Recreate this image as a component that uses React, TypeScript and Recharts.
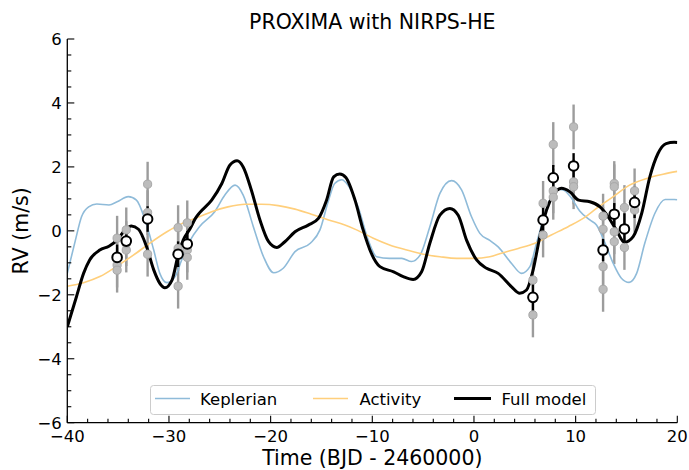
import React from 'react';
import { ComposedChart, Line, Scatter, XAxis, YAxis, ErrorBar } from 'recharts';

// ---- Full model curve (black) ----
const fullModelTime = [-40, -39.1, -38.4, -37.8, -36.8, -35.9, -35.1, -34.3, -33.7, -33.0, -32.2, -31.5, -30.9, -30.4, -29.7, -29.1, -28.6, -27.9, -27.4, -27.0, -25.8, -24.8, -24.0, -23.3, -22.7, -21.9, -21.05, -20.2, -19.4, -18.6, -17.6, -16.3, -15.3, -14.5, -13.8, -13.2, -12.6, -11.7, -10.9, -10.1, -9.25, -7.9, -6.96, -5.98, -5.15, -4.34, -3.35, -2.37, -1.55, -0.73, 0.26, 1.24, 2.38, 3.7, 4.5, 5.17, 5.82, 6.48, 7.14, 7.8, 8.6, 9.43, 10.3, 11.4, 12.4, 13.2, 14.0, 14.8, 15.66, 16.5, 17.3, 18.1, 18.9, 19.7, 20];
const fullModelRV = [-3.0, -2.06, -1.33, -0.91, -0.6, -0.48, -0.29, 0.03, 0.15, 0.05, -0.5, -1.22, -1.64, -1.78, -1.54, -0.76, -0.29, 0.08, 0.39, 0.56, 0.96, 1.48, 2.06, 2.19, 2.0, 1.28, 0.34, -0.34, -0.52, -0.34, -0.03, 0.18, 0.39, 0.96, 1.69, 1.78, 1.67, 0.96, 0.03, -0.7, -1.12, -1.28, -1.43, -1.52, -1.28, -0.39, 0.49, 0.7, 0.49, -0.29, -0.91, -1.17, -1.33, -1.75, -1.95, -1.85, -1.22, -0.18, 0.65, 1.12, 1.33, 1.22, 0.96, 0.91, 0.75, 0.44, 0.03, -0.36, -0.18, 0.55, 1.69, 2.42, 2.73, 2.77, 2.76];

// ---- Keplerian curve (blue) ----
const keplerianTime = [-40, -39.2, -38.6, -37.9, -37.1, -35.9, -35.1, -34.0, -33.2, -32.4, -31.5, -30.9, -30.2, -29.4, -28.75, -27.9, -27.0, -25.5, -24.5, -23.5, -22.7, -21.7, -20.7, -19.7, -18.76, -17.6, -16.1, -15.15, -14.3, -13.7, -13.0, -12.4, -11.4, -10.4, -9.58, -8.3, -7.1, -6.14, -5.3, -4.34, -3.35, -2.2, -1.22, -0.24, 0.58, 1.56, 2.38, 3.7, 4.68, 5.5, 6.15, 6.8, 7.46, 8.12, 8.77, 9.6, 10.4, 11.4, 12.05, 12.9, 13.7, 14.5, 15.26, 16.0, 16.8, 17.8, 18.8, 19.7, 20];
const keplerianRV = [-1.33, -0.29, 0.44, 0.75, 0.84, 0.81, 0.91, 1.07, 0.96, 0.39, -0.6, -1.33, -1.62, -1.43, -0.91, -0.29, 0.13, 0.6, 1.12, 1.43, 1.12, 0.13, -0.81, -1.31, -1.17, -0.65, -0.39, 0.03, 0.96, 1.48, 1.6, 1.43, 0.75, -0.29, -0.81, -0.86, -0.86, -0.96, -0.76, 0.13, 1.17, 1.57, 1.28, 0.44, -0.08, -0.3, -0.5, -1.02, -1.33, -1.12, -0.39, 0.34, 0.96, 1.3, 1.28, 1.02, 0.62, 0.34, 0.18, -0.39, -1.02, -1.48, -1.61, -1.33, -0.39, 0.55, 0.98, 0.98, 0.97];

// ---- Activity curve (orange) ----
const activityTime = [-40, -38.4, -36.8, -35.1, -33.5, -31.9, -30.2, -28.6, -27.0, -25.8, -24.2, -22.5, -20.9, -19.25, -17.6, -16.0, -14.3, -12.7, -11.55, -9.9, -8.3, -6.6, -5.0, -3.35, -1.7, -0.08, 1.56, 2.7, 4.35, 6.0, 7.6, 9.26, 10.9, 12.05, 13.7, 15.3, 17.0, 18.6, 20];
const activityRV = [-1.73, -1.62, -1.43, -1.1, -0.76, -0.39, -0.03, 0.25, 0.44, 0.6, 0.75, 0.83, 0.83, 0.79, 0.68, 0.52, 0.34, 0.18, 0.03, -0.23, -0.44, -0.6, -0.73, -0.81, -0.86, -0.86, -0.81, -0.7, -0.55, -0.39, -0.13, 0.13, 0.42, 0.7, 1.07, 1.43, 1.64, 1.77, 1.86];

// ---- Individual measurements (grey) ----
const rawTime = [-35.1, -35.1, -35.1, -34.2, -34.2, -34.2, -32.1, -32.1, -32.1, -29.1, -29.1, -29.1, -28.2, -28.2, -28.2, 5.8, 5.8, 6.8, 6.8, 7.8, 7.8, 7.8, 9.8, 9.8, 9.8, 12.7, 12.7, 12.7, 12.7, 13.8, 13.8, 13.8, 13.8, 14.8, 14.8, 15.8, 15.8];
const rawRV = [-0.23, -1.07, -1.23, 0.03, -0.6, -0.4, 1.46, 0.57, -0.73, 0.1, -0.55, -1.73, 0.25, -0.6, -0.83, -1.54, -2.63, 0.86, -0.13, 2.7, 1.25, 1.05, 3.25, 1.53, 1.38, 0.46, 0.05, -1.12, -1.83, 1.48, 1.38, -0.03, -0.34, 0.73, -0.52, 1.25, 0.65];
const rawErr = [0.7, 0.7, 0.7, 0.7, 0.7, 0.7, 0.7, 0.7, 0.7, 0.7, 0.7, 0.7, 0.7, 0.7, 0.7, 0.7, 0.7, 0.7, 0.7, 0.7, 0.7, 0.7, 0.7, 0.7, 0.7, 0.7, 0.7, 0.7, 0.7, 0.7, 0.7, 0.7, 0.7, 0.7, 0.7, 0.7, 0.7];

// ---- Nightly binned measurements (white) ----
const binTime = [-35.1, -34.2, -32.1, -29.1, -28.2, 5.8, 6.8, 7.8, 9.8, 12.7, 13.8, 14.8, 15.8];
const binRV = [-0.83, -0.32, 0.37, -0.73, -0.41, -2.08, 0.34, 1.66, 2.03, -0.6, 0.52, 0.06, 0.89];
const binErr = [0.4, 0.4, 0.4, 0.4, 0.4, 0.49, 0.49, 0.4, 0.4, 0.35, 0.35, 0.49, 0.49];

// ---- Ticks ----
const xTicks = [-40, -38, -36, -34, -32, -30, -28, -26, -24, -22, -20, -18, -16, -14, -12, -10, -8, -6, -4, -2, 0, 2, 4, 6, 8, 10, 12, 14, 16, 18, 20];
const xMajor = [-40, -30, -20, -10, 0, 10, 20];
const yTicks = [-6, -5.5, -5, -4.5, -4, -3.5, -3, -2.5, -2, -1.5, -1, -0.5, 0, 0.5, 1, 1.5, 2, 2.5, 3, 3.5, 4, 4.5, 5, 5.5, 6];
const yMajor = [-6, -4, -2, 0, 2, 4, 6];

const titleText = 'PROXIMA with NIRPS-HE';
const xLabelText = 'Time (BJD - 2460000)';
const yLabelText = 'RV (m/s)';
const legendNames = ['Keplerian', 'Activity', 'Full model'];

const FONT = "'DejaVu Sans', sans-serif";
const BLUE = '#8fbbd9';
const ORANGE = '#ffcf7c';

const fullModelData = fullModelTime.map((t, i) => ({ t, v: fullModelRV[i] }));
const keplerianData = keplerianTime.map((t, i) => ({ t, v: keplerianRV[i] }));
const activityData = activityTime.map((t, i) => ({ t, v: activityRV[i] }));
const rawData = rawTime.map((t, i) => ({ t, v: rawRV[i], err: rawErr[i] }));
const binData = binTime.map((t, i) => ({ t, v: binRV[i], err: binErr[i] }));

const fmt = (v: number) => (v < 0 ? '\u2212' + Math.abs(v) : String(v));

const BottomTick = (props: any) => {
  const { x, y, payload } = props;
  const v = payload.value;
  const major = xMajor.includes(v);
  return (
    <g>
      <line x1={x} x2={x} y1={y} y2={y - (major ? 7 : 4)} stroke="#000" strokeWidth={1.1} />
      {major && (
        <text x={x} y={y + 19} textAnchor="middle" fontSize={16.5} fontFamily={FONT} fill="#000">
          {fmt(v)}
        </text>
      )}
    </g>
  );
};

const TopTick = (props: any) => {
  const { x, y, payload } = props;
  const major = xMajor.includes(payload.value);
  return <line x1={x} x2={x} y1={y} y2={y + (major ? 7 : 4)} stroke="#000" strokeWidth={1.1} />;
};

const LeftTick = (props: any) => {
  const { x, y, payload } = props;
  const v = payload.value;
  const major = yMajor.includes(v);
  return (
    <g>
      <line x1={x} x2={x + (major ? 7 : 4)} y1={y} y2={y} stroke="#000" strokeWidth={1.1} />
      {major && (
        <text x={x - 5.5} y={y} dy="0.36em" textAnchor="end" fontSize={16.5} fontFamily={FONT} fill="#000">
          {fmt(v)}
        </text>
      )}
    </g>
  );
};

const RightTick = (props: any) => {
  const { x, y, payload } = props;
  const major = yMajor.includes(payload.value);
  return <line x1={x} x2={x - (major ? 7 : 4)} y1={y} y2={y} stroke="#000" strokeWidth={1.1} />;
};

const GrayDot = (props: any) => (
  <circle cx={props.cx} cy={props.cy} r={4.1} fill="#bcbcbc" stroke="#a8a8a8" strokeWidth={1} />
);

const BinDot = (props: any) => (
  <circle cx={props.cx} cy={props.cy} r={4.8} fill="#ffffff" stroke="#000" strokeWidth={2} />
);

export default function App() {
  return (
    <div style={{ position: 'relative', width: 689, height: 470, fontFamily: FONT }}>
      <style>{`body{margin:0;}`}</style>
      <ComposedChart
        width={689}
        height={470}
        margin={{ top: 39, right: 11.7, bottom: 0, left: 0 }}
        style={{ background: '#fff' }}
      >
        <XAxis
          xAxisId="b"
          type="number"
          dataKey="t"
          domain={[-40, 20]}
          allowDataOverflow
          ticks={xTicks}
          interval={0}
          tick={<BottomTick />}
          tickLine={false}
          tickSize={0}
          tickMargin={0}
          height={47.3}
          axisLine={{ stroke: '#000', strokeWidth: 1.3 }}
          label={{ value: xLabelText, position: 'insideBottom', offset: 5, style: { fontSize: 20.5, fontFamily: FONT, fill: '#000' } }}
        />
        <XAxis
          xAxisId="t"
          orientation="top"
          type="number"
          dataKey="t"
          domain={[-40, 20]}
          allowDataOverflow
          ticks={xTicks}
          interval={0}
          tick={<TopTick />}
          tickLine={false}
          tickSize={0}
          tickMargin={0}
          height={0}
          axisLine={{ stroke: '#000', strokeWidth: 1.3 }}
        />
        <YAxis
          yAxisId="l"
          type="number"
          domain={[-6, 6]}
          allowDataOverflow
          ticks={yTicks}
          interval={0}
          tick={<LeftTick />}
          tickLine={false}
          tickSize={0}
          tickMargin={0}
          width={67.3}
          axisLine={{ stroke: '#000', strokeWidth: 1.3 }}
          label={{ value: yLabelText, angle: -90, position: 'insideLeft', offset: 21, style: { fontSize: 20.5, fontFamily: FONT, fill: '#000', textAnchor: 'middle' } }}
        />
        <YAxis
          yAxisId="r"
          orientation="right"
          type="number"
          domain={[-6, 6]}
          allowDataOverflow
          ticks={yTicks}
          interval={0}
          tick={<RightTick />}
          tickLine={false}
          tickSize={0}
          tickMargin={0}
          width={0}
          axisLine={{ stroke: '#000', strokeWidth: 1.3 }}
        />
        <Scatter
          xAxisId="b"
          yAxisId="l"
          data={rawData}
          dataKey="v"
          shape={<GrayDot />}
          isAnimationActive={false}
        >
          <ErrorBar dataKey="err" direction="y" width={0} stroke="#9c9c9c" strokeWidth={2.4} />
        </Scatter>
        <Line
          xAxisId="b"
          yAxisId="l"
          data={keplerianData}
          dataKey="v"
          type="monotone"
          stroke={BLUE}
          strokeWidth={1.6}
          dot={false}
          activeDot={false}
          isAnimationActive={false}
        />
        <Line
          xAxisId="b"
          yAxisId="l"
          data={activityData}
          dataKey="v"
          type="monotone"
          stroke={ORANGE}
          strokeWidth={1.6}
          dot={false}
          activeDot={false}
          isAnimationActive={false}
        />
        <Line
          xAxisId="b"
          yAxisId="l"
          data={fullModelData}
          dataKey="v"
          type="monotone"
          stroke="#000"
          strokeWidth={3}
          dot={false}
          activeDot={false}
          isAnimationActive={false}
        />
        <Scatter
          xAxisId="b"
          yAxisId="l"
          data={binData}
          dataKey="v"
          shape={<BinDot />}
          isAnimationActive={false}
        >
          <ErrorBar dataKey="err" direction="y" width={0} stroke="#000" strokeWidth={2.4} />
        </Scatter>
      </ComposedChart>
      <svg
        width={689}
        height={470}
        style={{ position: 'absolute', left: 0, top: 0, pointerEvents: 'none' }}
      >
        <text x={372.3} y={29} textAnchor="middle" fontSize={20.5} fontFamily={FONT} fill="#000">
          {titleText}
        </text>
        <rect x={150.5} y={385.5} width={445} height={29} rx={3} fill="#fff" fillOpacity={0.8} stroke="#cccccc" />
        <line x1={155} x2={190} y1={398.5} y2={398.5} stroke={BLUE} strokeWidth={1.6} />
        <text x={200} y={405} fontSize={16.5} fontFamily={FONT} fill="#000">{legendNames[0]}</text>
        <line x1={313} x2={348} y1={398.5} y2={398.5} stroke={ORANGE} strokeWidth={1.6} />
        <text x={359.5} y={405} fontSize={16.5} fontFamily={FONT} fill="#000">{legendNames[1]}</text>
        <line x1={454} x2={491} y1={398.5} y2={398.5} stroke="#000" strokeWidth={3} />
        <text x={501.5} y={405} fontSize={16.5} fontFamily={FONT} fill="#000">{legendNames[2]}</text>
      </svg>
    </div>
  );
}
